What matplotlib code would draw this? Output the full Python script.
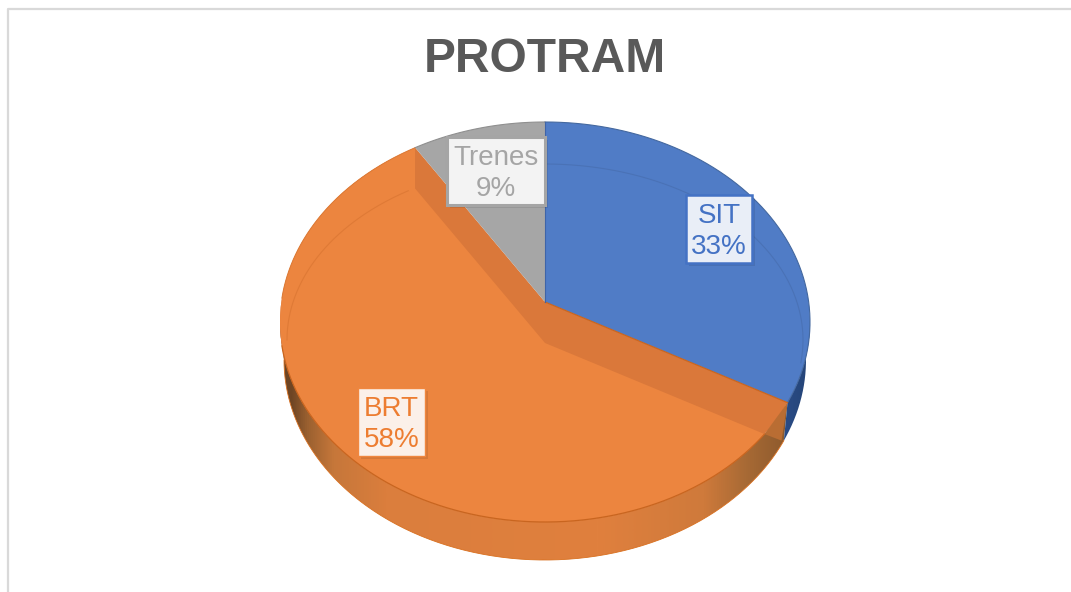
import numpy as np
import matplotlib
matplotlib.use("Agg")
import matplotlib.pyplot as plt
from matplotlib.patches import Ellipse, PathPatch, Rectangle
from matplotlib.path import Path
from matplotlib.colors import LinearSegmentedColormap

title = "PROTRAM"
categories = ["SIT", "BRT", "Trenes"]
values = [33, 58, 9]
colors = ["#507CC6", "#EC853F", "#A6A6A6"]
text_colors = ["#4472C4", "#ED7D31", "#A5A5A5"]

W, H = 1071, 592
CX, CY, RX, RY = 545, 322, 265, 200
DEPTH = 38 / RY
BOTTOM_RX = 261 / RX


def X(px):
    return (px - CX) / RX


def Y(py):
    return (CY - py) / RY


fig = plt.figure(figsize=(W / 100, H / 100), dpi=100)
ax = fig.add_axes([0, 0, 1, 1])
xlim = (X(0), X(W))
ylim = (Y(H), Y(0))

apex_top = Y(302)
apex_low = Y(343)
sit_end = np.deg2rad(90 - 3.6 * values[0])
gray_start = np.deg2rad(90 + 3.6 * values[2])


def ray_hit(apex, phi):
    dx, dy = np.cos(phi), np.sin(phi)
    b = apex * dy
    r = -b + np.sqrt(b * b - (apex * apex - 1))
    return r * dx, apex + r * dy


ex, ey = ray_hit(apex_top, sit_end)
fx, fy = ray_hit(apex_low, sit_end)
gx, gy = ray_hit(apex_top, gray_start)
end_t = np.arctan2(ey, ex)
ix_corner = gx
iy_corner = apex_low + gx * np.tan(gray_start)


def wall_path(t0, t1):
    t = np.linspace(t0, t1, 240)
    xs, ys = np.cos(t), np.sin(t)
    px = np.r_[xs, BOTTOM_RX * xs[::-1]]
    py = np.r_[ys, ys[::-1] - DEPTH]
    return Path(np.c_[px, py])


def gradient_wall(t0, t1, stops):
    cmap = LinearSegmentedColormap.from_list("w", stops)
    im = ax.imshow(np.linspace(0, 1, 512)[None, :], extent=(-1, 1, -1.3, 1),
                   cmap=cmap, aspect="auto", zorder=1, interpolation="bilinear")
    im.set_clip_path(PathPatch(wall_path(t0, t1), transform=ax.transData))


gradient_wall(-np.pi, end_t,
              [(0.0, "#6E4524"), (0.02, "#6E4524"), (0.05, "#9A6030"), (0.10, "#C6773A"),
               (0.2, "#DB7E3D"), (0.6, "#E0803E"), (0.8, "#CF7A3B"), (0.88, "#A86A35"),
               (1.0, "#7E5128")])
gradient_wall(end_t, 0.02, [(0.0, "#2F4F86"), (0.9, "#2F5597"), (1.0, "#254477")])

top_ellipse = Ellipse((0, 0), 2, 2, transform=ax.transData)
pie_colors_dark = [colors[0], "#DA783A", colors[2]]
kw = dict(startangle=90, counterclock=False, radius=1.7, frame=True,
          wedgeprops=dict(linewidth=0))

wedges, _ = ax.pie(values, colors=pie_colors_dark, center=(0, apex_top), **kw)
for w in wedges:
    w.set_zorder(2)
    w.set_clip_on(True)
    w.set_clip_path(top_ellipse)

ax.fill([ex, fx, ex - 6 / RX], [ey, fy, ey - DEPTH], color="#B96D33", lw=0, zorder=2.2)

low, _ = ax.pie(values, colors=colors, center=(0, apex_low), **kw)
for i, w in enumerate(low):
    if i == 1:
        w.set_zorder(3)
        w.set_clip_on(True)
        w.set_clip_path(top_ellipse)
    else:
        w.set_visible(False)

# top-left part of the orange slice, beyond its cut face
patch = ax.fill([gx, -1.2, -1.2, ix_corner], [gy + 0.02, gy + 0.02, iy_corner - 0.05, iy_corner - 0.05],
                color=colors[1], lw=0, zorder=3.1)[0]
patch.set_clip_path(top_ellipse)

# rim highlights
t = np.linspace(-np.pi + 0.12, np.arctan2(fy, fx), 300)
ax.plot(np.cos(t), np.sin(t), color="#C9651F", lw=0.9, zorder=4)
t = np.linspace(np.pi - 0.12, np.arctan2(gy, gx), 200)
ax.plot(np.cos(t), np.sin(t), color="#DC7A36", lw=0.7, zorder=4)
t = np.linspace(-np.pi, end_t, 300)
ax.plot(BOTTOM_RX * np.cos(t), np.sin(t) - DEPTH, color="#D9701F", lw=0.6, zorder=1.5)
t = np.linspace(np.pi / 2, end_t, 200)
ax.plot(np.cos(t), np.sin(t), color="#44689F", lw=0.8, zorder=4)
t = np.linspace(np.pi / 2, np.arctan2(gy, gx), 60)
ax.plot(np.cos(t), np.sin(t), color="#8F8F8F", lw=0.8, zorder=4)

# inner bevel lines
ix, iy, irx, iry = X(545), Y(340), 258 / RX, 176 / RY
t = np.linspace(np.pi / 2, -0.13, 200)
ax.plot(ix + irx * np.cos(t), iy + iry * np.sin(t), color="#4A72B6", lw=0.8, zorder=4)
t = np.linspace(np.deg2rad(122), np.deg2rad(180), 200)
ax.plot(ix + irx * np.cos(t), iy + iry * np.sin(t), color="#DF7A36", lw=0.8, zorder=4)

# separating edges
ax.plot([0, ex], [apex_top, ey], color="#C9651F", lw=0.9, zorder=4)
ax.plot([0, 0], [apex_top, 1], color="#3E64A8", lw=0.8, zorder=4)

# chart frame
ax.plot([X(8), X(8), X(W)], [Y(H), Y(9), Y(9)], color="#D9D9D9", lw=1.6, zorder=0)

# labels
boxes = [(686, 195, 752, 263), (358, 388, 425, 456), (447, 137, 545, 205)]
faces = ["#E9EEF7", "#FBF0E9", "#F3F3F3"]
edges = ["#4472C4", "#F0873F", "#A5A5A5"]
widths = [1.8, 1.0, 2.2]
for cat, val, tc, (x0, y0, x1, y1), fc, ec, lw in zip(categories, values, text_colors, boxes, faces, edges, widths):
    ax.add_patch(Rectangle((X(x0 + 3), Y(y1 + 3)), (x1 - x0) / RX, (y1 - y0) / RY,
                           fc="#000000", alpha=0.09, lw=0, zorder=5))
    ax.add_patch(Rectangle((X(x0), Y(y1)), (x1 - x0) / RX, (y1 - y0) / RY,
                           fc=fc, ec=ec, lw=lw, zorder=6))
    ax.text(X((x0 + x1) / 2), Y((y0 + y1) / 2 + 2.5), f"{cat}\n{val}%", color=tc, ha="center",
            va="center", fontsize=20, family="Liberation Sans", linespacing=1.25, zorder=7)

ax.text(X(545), Y(60), title, color="#595959", ha="center", va="center",
        fontsize=34.5, fontweight="bold", family="Liberation Sans", zorder=7)

ax.set_aspect("auto")
ax.set_xlim(xlim)
ax.set_ylim(ylim)
ax.axis("off")
fig.savefig("out.png", dpi=100, facecolor="white")
